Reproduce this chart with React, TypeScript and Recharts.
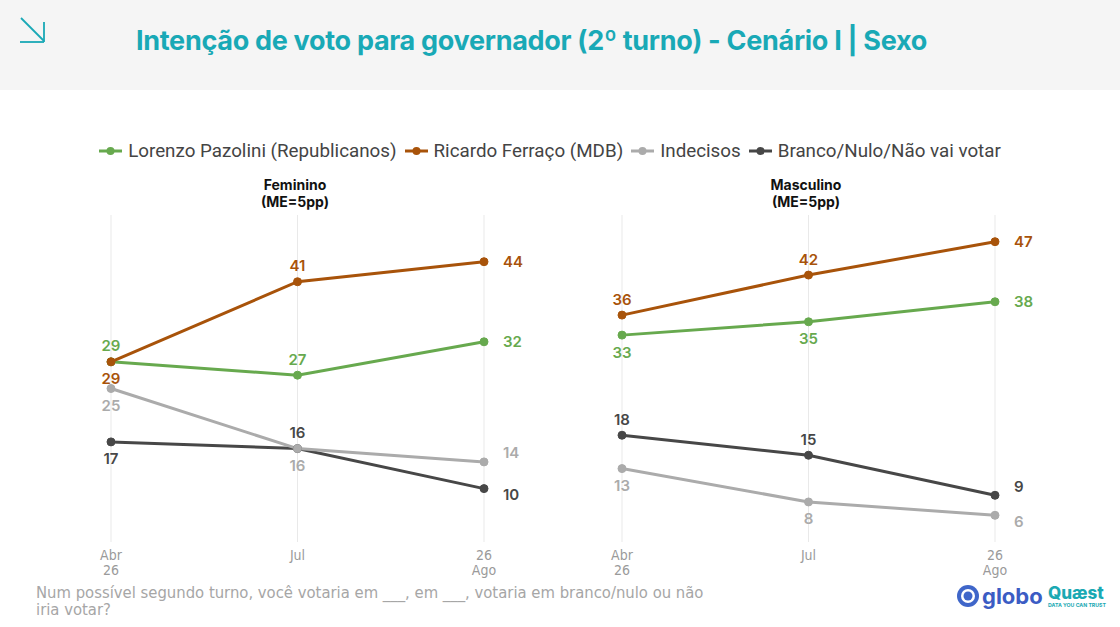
import { LineChart, Line, XAxis, YAxis, CartesianGrid, LabelList } from 'recharts';

const periods = ['Abr\n26', 'Jul', '26\nAgo'];

const femPazolini = [29, 27, 32];
const femFerraco = [29, 41, 44];
const femIndecisos = [25, 16, 14];
const femBranco = [17, 16, 10];

const mascPazolini = [33, 35, 38];
const mascFerraco = [36, 42, 47];
const mascIndecisos = [13, 8, 6];
const mascBranco = [18, 15, 9];

const GREEN = '#67a94e';
const ORANGE = '#a8530a';
const LIGHT = '#ababab';
const DARK = '#474747';
const TEAL = '#19a9b6';

const NARROW = '"Liberation Sans Narrow", "DejaVu Sans Condensed", Roboto, sans-serif';
const LABEL_FONT = 'Inter, "Noto Sans", sans-serif';

type Pos = 'top' | 'bottom' | 'right' | 'rightUp' | 'rightDown';

const legendItems = [
  { name: 'Lorenzo Pazolini (Republicanos)', color: GREEN },
  { name: 'Ricardo Ferraço (MDB)', color: ORANGE },
  { name: 'Indecisos', color: LIGHT },
  { name: 'Branco/Nulo/Não vai votar', color: DARK },
];

function buildRows(p: number[], f: number[], i: number[], b: number[]) {
  return periods.map((period, k) => ({
    period,
    pazolini: p[k],
    ferraco: f[k],
    indecisos: i[k],
    branco: b[k],
  }));
}

function makeLabel(color: string, positions: Pos[]) {
  return (props: any) => {
    const { x, y, value, index } = props;
    const pos = positions[index];
    let tx = x;
    let ty = y;
    let anchor: 'middle' | 'start' = 'middle';
    if (pos === 'top') ty = y - 16;
    if (pos === 'bottom') ty = y + 17;
    if (pos === 'right' || pos === 'rightUp' || pos === 'rightDown') {
      tx = x + 19;
      anchor = 'start';
      if (pos === 'rightUp') ty = y - 9;
      if (pos === 'rightDown') ty = y + 6;
    }
    return (
      <text
        x={tx}
        y={ty}
        fill={color}
        textAnchor={anchor}
        dominantBaseline="central"
        fontFamily={LABEL_FONT}
        fontWeight={600}
        fontSize={15}
      >
        {value}
      </text>
    );
  };
}

function PeriodTick(props: any) {
  const { x, y, payload } = props;
  const lines = String(payload.value).split('\n');
  return (
    <text x={x} y={y + 10} textAnchor="middle" fill="#9a9a9a" fontFamily={NARROW} fontSize={14}>
      {lines.map((l, k) => (
        <tspan key={k} x={x} dy={k === 0 ? 0 : 15}>
          {l}
        </tspan>
      ))}
    </text>
  );
}

type PanelProps = {
  left: number;
  rows: any[];
  pos: { pazolini: Pos[]; ferraco: Pos[]; indecisos: Pos[]; branco: Pos[] };
};

function Panel({ left, rows, pos }: PanelProps) {
  const series = [
    { key: 'branco', color: DARK },
    { key: 'indecisos', color: LIGHT },
    { key: 'pazolini', color: GREEN },
    { key: 'ferraco', color: ORANGE },
  ] as const;
  return (
    <div style={{ position: 'absolute', left, top: 170 }}>
      <LineChart width={520} height={420} data={rows} margin={{ top: 45, right: 76, left: 71, bottom: 8 }}>
        <CartesianGrid horizontal={false} stroke="#e9e9e9" />
        <XAxis
          dataKey="period"
          axisLine={false}
          tickLine={false}
          interval={0}
          height={40}
          tick={<PeriodTick />}
          padding={{ left: 0, right: 0 }}
        />
        <YAxis hide domain={[2, 51]} />
        {series.map((s) => (
          <Line
            key={s.key}
            dataKey={s.key}
            stroke={s.color}
            strokeWidth={3}
            dot={{ r: 4, fill: s.color, stroke: s.color, strokeWidth: 1 }}
            activeDot={false}
            isAnimationActive={false}
          >
            <LabelList dataKey={s.key} content={makeLabel(s.color, pos[s.key])} />
          </Line>
        ))}
      </LineChart>
    </div>
  );
}

export default function App() {
  const femRows = buildRows(femPazolini, femFerraco, femIndecisos, femBranco);
  const mascRows = buildRows(mascPazolini, mascFerraco, mascIndecisos, mascBranco);

  return (
    <div
      style={{
        position: 'absolute',
        left: 0,
        top: 0,
        width: 1120,
        height: 627,
        background: '#fff',
        overflow: 'hidden',
        fontFamily: 'Roboto, sans-serif',
      }}
    >
      {/* header band */}
      <div style={{ position: 'absolute', left: 0, top: 0, width: 1120, height: 90, background: '#f5f5f5' }} />
      <svg style={{ position: 'absolute', left: 16, top: 14 }} width={34} height={34}>
        <line x1={5} y1={4} x2={28} y2={27} stroke={TEAL} strokeWidth={1.8} />
        <line x1={28} y1={8} x2={28} y2={28} stroke={TEAL} strokeWidth={1.8} />
        <line x1={4} y1={28} x2={28} y2={28} stroke={TEAL} strokeWidth={1.8} />
      </svg>
      <div
        style={{
          position: 'absolute',
          left: 136,
          top: 24,
          fontFamily: 'Inter, sans-serif',
          fontWeight: 700,
          fontSize: 27,
          color: TEAL,
          whiteSpace: 'nowrap',
          letterSpacing: -0.3,
        }}
      >
        Intenção de voto para governador (2º turno) - Cenário I | Sexo
      </div>

      {/* legend */}
      <div
        style={{
          position: 'absolute',
          left: 0,
          top: 140,
          width: 1100,
          display: 'flex',
          justifyContent: 'center',
          gap: 8,
          fontSize: 18.8,
          color: '#444',
          whiteSpace: 'nowrap',
        }}
      >
        {legendItems.map((it) => (
          <div key={it.name} style={{ display: 'flex', alignItems: 'center', gap: 6 }}>
            <svg width={23} height={10}>
              <line x1={0} y1={5} x2={23} y2={5} stroke={it.color} strokeWidth={3} />
              <circle cx={11.5} cy={5} r={4} fill={it.color} />
            </svg>
            <span>{it.name}</span>
          </div>
        ))}
      </div>

      {/* panel titles */}
      {[
        { t: 'Feminino', x: 295 },
        { t: 'Masculino', x: 806 },
      ].map((p) => (
        <div
          key={p.t}
          style={{
            position: 'absolute',
            left: p.x - 80,
            top: 176,
            width: 160,
            textAlign: 'center',
            fontFamily: 'Inter, sans-serif',
            fontWeight: 700,
            fontSize: 14,
            lineHeight: '17px',
            color: '#111',
          }}
        >
          {p.t}
          <br />
          (ME=5pp)
        </div>
      ))}

      <Panel
        left={40}
        rows={femRows}
        pos={{
          pazolini: ['top', 'top', 'right'],
          ferraco: ['bottom', 'top', 'right'],
          indecisos: ['bottom', 'bottom', 'rightUp'],
          branco: ['bottom', 'top', 'rightDown'],
        }}
      />
      <Panel
        left={551}
        rows={mascRows}
        pos={{
          pazolini: ['bottom', 'bottom', 'right'],
          ferraco: ['top', 'top', 'right'],
          indecisos: ['bottom', 'bottom', 'rightDown'],
          branco: ['top', 'top', 'rightUp'],
        }}
      />

      {/* footnote */}
      <div
        style={{
          position: 'absolute',
          left: 36,
          top: 584,
          fontFamily: NARROW,
          fontSize: 16.5,
          lineHeight: '17px',
          color: '#a6a6a6',
          whiteSpace: 'nowrap',
        }}
      >
        Num possível segundo turno, você votaria em ___, em ___, votaria em branco/nulo ou não
        <br />
        iria votar?
      </div>

      {/* logos */}
      <svg style={{ position: 'absolute', left: 955, top: 580 }} width={160} height={34}>
        <circle cx={13} cy={16} r={11} fill="#3f66c9" />
        <circle cx={13} cy={16} r={7} fill="#fff" />
        <circle cx={13} cy={16} r={4.5} fill="#3f66c9" />
        <text x={27} y={24} fontFamily="Inter, sans-serif" fontWeight={700} fontSize={22} fill="#3b5cc4">
          globo
        </text>
        <text x={93} y={19} fontFamily="Inter, sans-serif" fontWeight={800} fontSize={17} fill="#1aa9b3">
          Quæst
        </text>
        <text x={93} y={27} fontFamily="Inter, sans-serif" fontWeight={700} fontSize={5.2} fill="#1aa9b3">
          DATA YOU CAN TRUST
        </text>
      </svg>
    </div>
  );
}
